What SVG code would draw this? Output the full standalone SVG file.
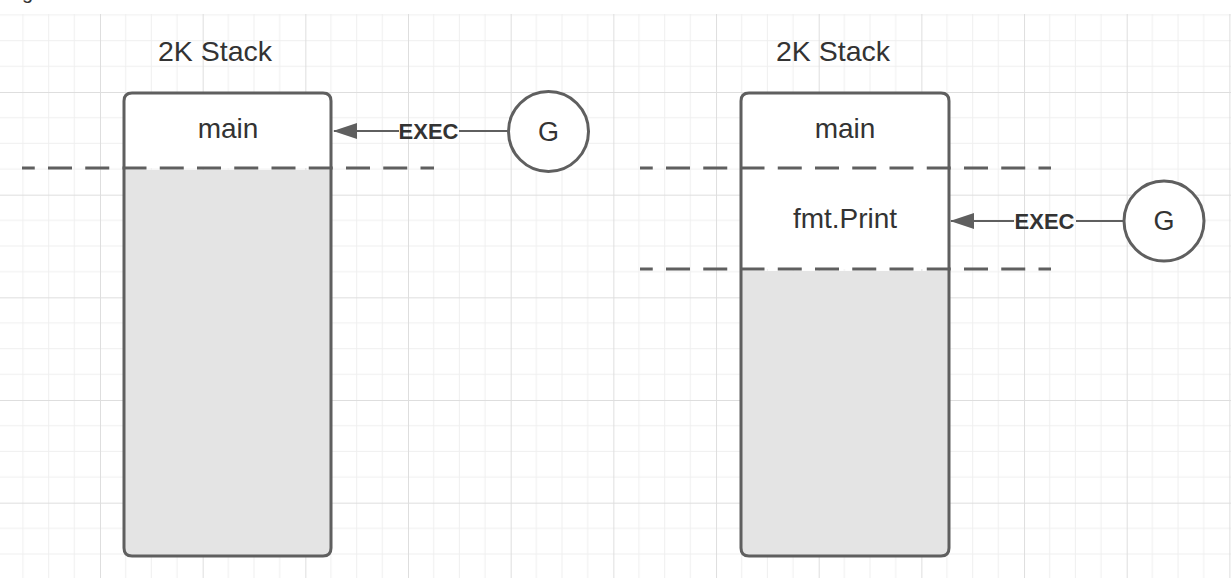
<svg xmlns="http://www.w3.org/2000/svg" width="1231" height="578" viewBox="0 0 1231 578">
  <style>
    .lbl { font-family: "Liberation Sans", Arial, sans-serif; fill: #333333; text-anchor: middle; }
    .exec { font-family: "Liberation Sans", Arial, sans-serif; font-weight: bold; font-size: 22px; fill: #333333; text-anchor: middle; }
    .outline { fill: none; stroke: #5f5f5f; stroke-width: 3; }
    .dash { stroke: #5f5f5f; stroke-width: 3; stroke-dasharray: 24 13.25; stroke-dashoffset: 11.25; fill: none; }
    .conn { stroke: #5f5f5f; stroke-width: 2; fill: none; }
    .gnode { fill: #ffffff; stroke: #5f5f5f; stroke-width: 3; }
    .grey { fill: #e4e4e4; }
    .white { fill: #ffffff; }
  </style>
  <defs>
    <pattern id="grid" patternUnits="userSpaceOnUse" x="-2.67" y="-10.67" width="102.67" height="102.67">
      <path d="M25.67,0 V102.67 M51.33,0 V102.67 M77,0 V102.67 M0,25.67 H102.67 M0,51.33 H102.67 M0,77 H102.67" stroke="#efefef" stroke-width="1" fill="none"/>
      <path d="M0.5,0 V102.67 M0,0.5 H102.67" stroke="#dedede" stroke-width="1" fill="none"/>
    </pattern>
    <marker id="arrow" viewBox="0 0 24 16" refX="23" refY="8" markerWidth="24" markerHeight="16" markerUnits="userSpaceOnUse" orient="auto">
      <path d="M0,0 L24,8 L0,16 z" fill="#5f5f5f"/>
    </marker>
  </defs>

  <rect x="0" y="0" width="1231" height="578" fill="#ffffff"/>
  <rect x="0" y="14" width="1231" height="564" fill="url(#grid)"/>

  <text x="22" y="-1" font-family="Liberation Sans, Arial, sans-serif" font-size="20" fill="#333333">g</text>

  <g id="stack-left">
    <text class="lbl" x="215" y="61" font-size="28.5">2K Stack</text>
    <path class="white" d="M124,168 V101 Q124,93 132,93 H323 Q331,93 331,101 V168 Z"/>
    <path class="grey" d="M124,170 H331 V548 Q331,556 323,556 H132 Q124,556 124,548 Z"/>
    <path class="outline" d="M132,93 H323 Q331,93 331,101 V548 Q331,556 323,556 H132 Q124,556 124,548 V101 Q124,93 132,93 Z"/>
    <line class="dash" x1="22" y1="168" x2="434" y2="168"/>
    <text class="lbl" x="228" y="138" font-size="28">main</text>
  </g>

  <g id="stack-right">
    <text class="lbl" x="833" y="61" font-size="28.5">2K Stack</text>
    <path class="white" d="M741,269 V101 Q741,93 749,93 H941 Q949,93 949,101 V269 Z"/>
    <path class="grey" d="M741,271 H949 V548 Q949,556 941,556 H749 Q741,556 741,548 Z"/>
    <path class="outline" d="M749,93 H941 Q949,93 949,101 V548 Q949,556 941,556 H749 Q741,556 741,548 V101 Q741,93 749,93 Z"/>
    <line class="dash" x1="640" y1="168" x2="1051" y2="168"/>
    <line class="dash" x1="640" y1="269" x2="1051" y2="269"/>
    <text class="lbl" x="845" y="138" font-size="28">main</text>
    <text class="lbl" x="845" y="228" font-size="28">fmt.Print</text>
  </g>

  <g id="g-left">
    <circle class="gnode" cx="548.5" cy="131.5" r="40"/>
    <text class="lbl" x="548.5" y="140.5" font-size="27">G</text>
  </g>

  <g id="g-right">
    <circle class="gnode" cx="1164" cy="221" r="40"/>
    <text class="lbl" x="1164" y="230" font-size="27">G</text>
  </g>

  <g id="connectors">
    <line class="conn" x1="508" y1="131" x2="459" y2="131"/>
    <line class="conn" x1="399" y1="131" x2="334" y2="131" marker-end="url(#arrow)"/>
    <text class="exec" x="428.5" y="139">EXEC</text>
    <line class="conn" x1="1124" y1="221" x2="1076" y2="221"/>
    <line class="conn" x1="1014" y1="221" x2="951" y2="221" marker-end="url(#arrow)"/>
    <text class="exec" x="1044.5" y="229">EXEC</text>
  </g>
</svg>
